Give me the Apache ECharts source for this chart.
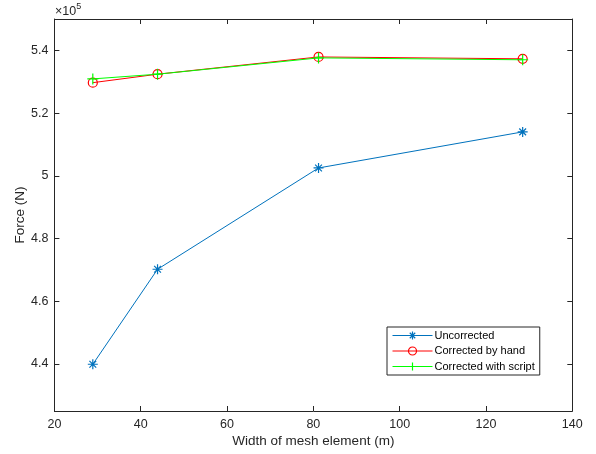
<!DOCTYPE html>
<html>
<head>
<meta charset="utf-8">
<script src="https://cdn.jsdelivr.net/npm/echarts@6/dist/echarts.min.js"></script>
<style>
  html, body { margin: 0; padding: 0; background: #fff; }
  #chart { width: 596px; height: 454px; }
</style>
</head>
<body>
<div id="chart"></div>
<script>
// Mesh element width (m)
const meshWidth = [28.9, 43.9, 81.2, 128.5];
// Computed force (N) for each correction method
const uncorrected = [439900, 470200, 502500, 514000];
const correctedByHand = [529700, 532400, 537900, 537300];
const correctedWithScript = [530900, 532400, 537600, 537000];
// Y tick positions (N)
const yTicks = [440000, 460000, 480000, 500000, 520000, 540000];

const FONT = "'Liberation Sans', Arial, Helvetica, sans-serif";
const AX = '#262626';

const pairs = ys => meshWidth.map((x, i) => [x, ys[i]]);

const asterisk = 'path://M0,5L10,5M5,0L5,10M1.6,1.6L8.4,8.4M1.6,8.4L8.4,1.6';
const plus = 'path://M0,5L10,5M5,0L5,10';

const chart = echarts.init(document.getElementById('chart'), null, { renderer: 'canvas' });

const axisCommon = {
  axisLine: { show: true, lineStyle: { color: AX, width: 1 } },
  splitLine: { show: false },
};

chart.setOption({
  animation: false,
  backgroundColor: '#fff',
  textStyle: { fontFamily: FONT },
  grid: { left: 54.4, right: 23.7, top: 19, bottom: 43, containLabel: false, outerBoundsMode: 'none' },
  xAxis: [
    Object.assign({}, axisCommon, {
      type: 'value', min: 20, max: 140, interval: 20, position: 'bottom',
      name: 'Width of mesh element (m)', nameLocation: 'middle', nameGap: 23,
      nameMoveOverlap: false,
      nameTextStyle: { color: AX, fontSize: 13.5, fontFamily: FONT },
      axisTick: { show: true, inside: true, length: 5, lineStyle: { color: AX } },
      axisLabel: { color: AX, fontSize: 12.5, margin: 7, fontFamily: FONT },
    }),
    Object.assign({}, axisCommon, {
      type: 'value', min: 20, max: 140, interval: 20, position: 'top',
      axisTick: { show: true, inside: true, length: 5, lineStyle: { color: AX } },
      axisLabel: { show: false },
    }),
  ],
  yAxis: [
    Object.assign({}, axisCommon, {
      type: 'value', min: 425000, max: 550000, position: 'left',
      name: 'Force (N)', nameLocation: 'middle', nameGap: 27,
      nameMoveOverlap: false,
      nameTextStyle: { color: AX, fontSize: 13.5, fontFamily: FONT },
      axisTick: { show: true, inside: true, length: 5, lineStyle: { color: AX }, customValues: yTicks },
      axisLabel: {
        color: AX, fontSize: 12.5, margin: 6, fontFamily: FONT, customValues: yTicks,
        formatter: v => String(parseFloat((v / 1e5).toFixed(1))),
      },
    }),
    Object.assign({}, axisCommon, {
      type: 'value', min: 425000, max: 550000, position: 'right',
      axisTick: { show: true, inside: true, length: 5, lineStyle: { color: AX }, customValues: yTicks },
      axisLabel: { show: false, customValues: yTicks },
    }),
  ],
  legend: {
    orient: 'vertical',
    left: 387, top: 327,
    backgroundColor: '#fff',
    borderColor: AX, borderWidth: 1, borderRadius: 0,
    padding: [3, 5, 3, 5],
    itemWidth: 40, itemHeight: 10, itemGap: 4.5,
    lineStyle: { width: 1 },
    itemStyle: { borderWidth: 1.2 },
    textStyle: { color: '#000', fontSize: 11, fontFamily: FONT, padding: [0, 0, 0, -3] },
    data: ['Uncorrected', 'Corrected by hand', 'Corrected with script'],
  },
  graphic: [{
    type: 'text', left: 55, top: 2,
    style: {
      text: '{a|×10}{b|5}',
      rich: {
        a: { fontSize: 12.5, fill: AX, fontFamily: FONT, verticalAlign: 'bottom' },
        b: { fontSize: 9, fill: AX, fontFamily: FONT, verticalAlign: 'top', padding: [0, 0, 7, 0] },
      },
    },
  }],
  series: [
    {
      name: 'Uncorrected', type: 'line', data: pairs(uncorrected),
      symbol: asterisk, symbolSize: 10, showAllSymbol: true,
      lineStyle: { color: '#0072BD', width: 1 },
      itemStyle: { color: 'rgba(0,0,0,0)', borderColor: '#0072BD', borderWidth: 1.2 },
    },
    {
      name: 'Corrected by hand', type: 'line', data: pairs(correctedByHand),
      symbol: 'circle', symbolSize: 9,
      lineStyle: { color: '#FF0000', width: 1 },
      itemStyle: { color: 'rgba(0,0,0,0)', borderColor: '#FF0000', borderWidth: 1.2 },
    },
    {
      name: 'Corrected with script', type: 'line', data: pairs(correctedWithScript),
      symbol: plus, symbolSize: 11,
      lineStyle: { color: '#00FF00', width: 1 },
      itemStyle: { color: 'rgba(0,0,0,0)', borderColor: '#00FF00', borderWidth: 1.2 },
    },
  ],
});
</script>
</body>
</html>
